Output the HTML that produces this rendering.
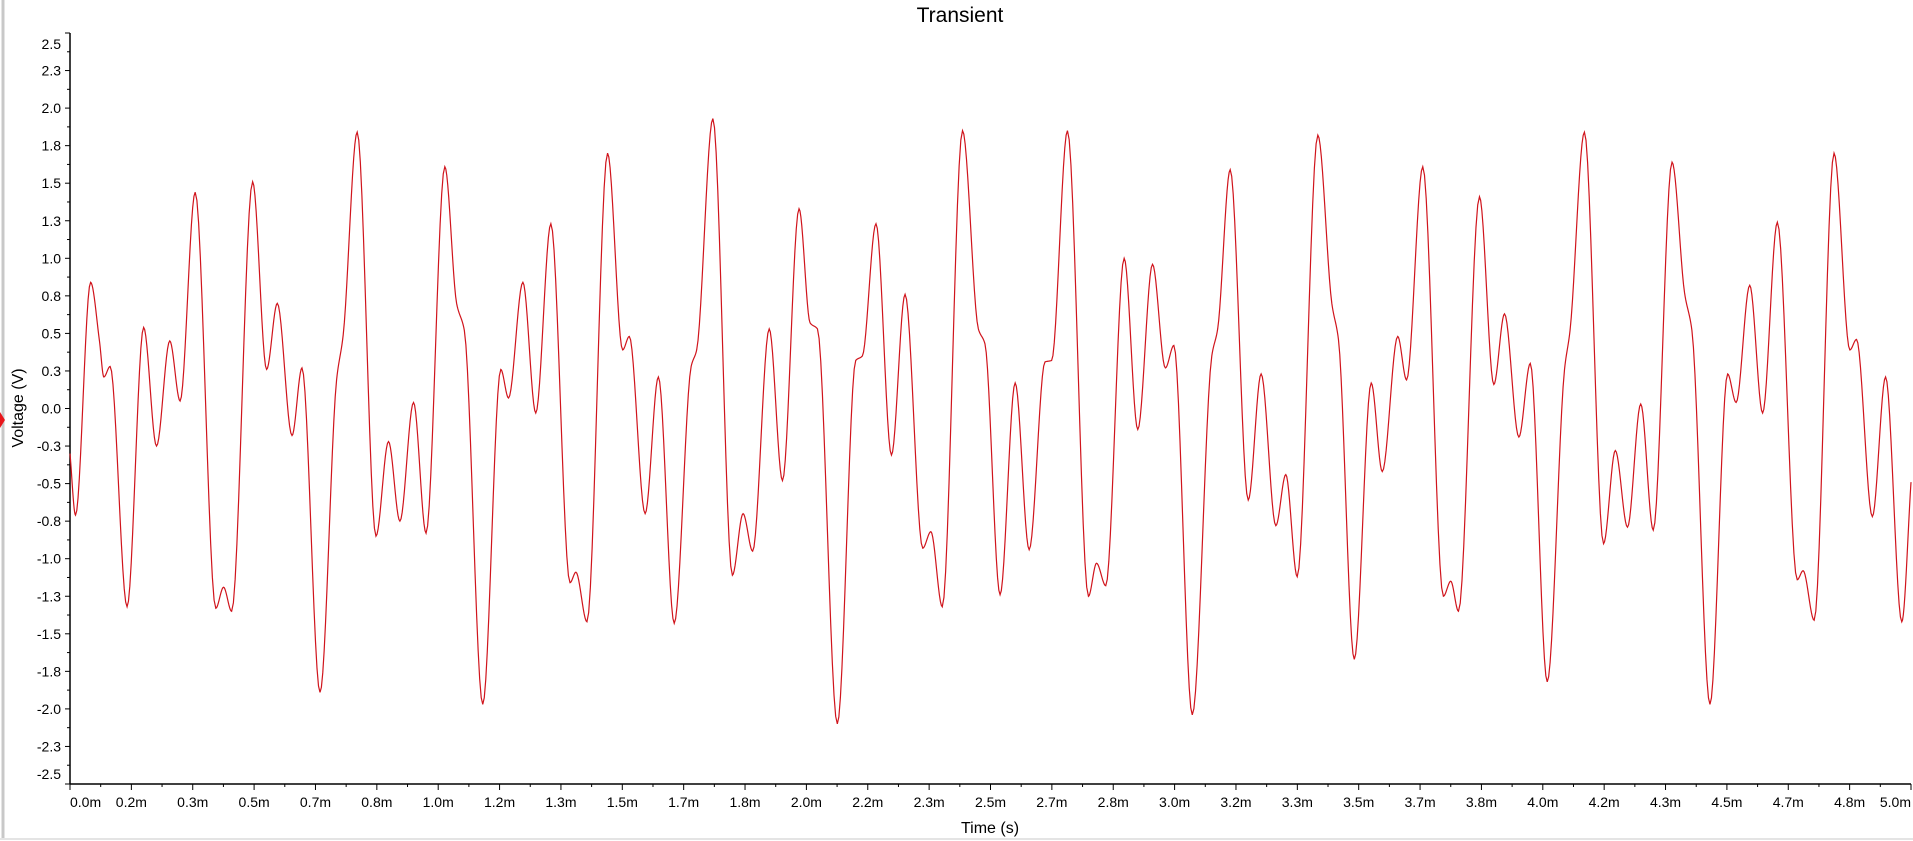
<!DOCTYPE html>
<html><head><meta charset="utf-8"><style>
html,body{margin:0;padding:0;background:#fff;}
svg{display:block;font-family:"Liberation Sans",Arial,sans-serif;}
</style></head><body>
<svg id="chart" width="1913" height="841" viewBox="0 0 1913 841" xmlns="http://www.w3.org/2000/svg">
<rect x="0" y="0" width="1913" height="841" fill="#fff"/>
<line x1="3" y1="0" x2="3" y2="838" stroke="#c8c8c8" stroke-width="3"/>
<line x1="0" y1="839" x2="1913" y2="839" stroke="#e4e4e4" stroke-width="2"/>
<polygon points="0,412 5,420 0,428" fill="#e8161b"/>
<text x="960" y="22" font-size="21" text-anchor="middle" fill="#000">Transient</text>
<text x="990" y="833" font-size="16" text-anchor="middle" fill="#000">Time (s)</text>
<text x="0" y="0" font-size="16" text-anchor="middle" fill="#000" transform="translate(23,408) rotate(-90)">Voltage (V)</text>
<g id="axes"></g>
<path id="trace" fill="none" stroke="#d0141c" stroke-width="1.2"/>
</svg>
<script>
const timeMs = [0,0.015,0.056,0.08,0.092,0.109,0.155,0.200,0.235,0.271,0.299,0.340,0.396,0.417,0.439,0.496,0.534,0.563,0.603,0.630,0.679,0.724,0.742,0.780,0.831,0.865,0.896,0.933,0.967,1.018,1.050,1.071,1.121,1.170,1.191,1.230,
1.265,1.306,1.358,1.374,1.404,1.460,1.501,1.519,1.562,1.598,1.641,1.687,1.702,1.746,1.799,1.828,1.854,1.899,1.935,1.980,2.010,2.030,2.084,2.134,2.152,2.189,2.231,2.268,2.316,2.338,2.369,2.424,2.467,
2.485,2.526,2.567,2.605,2.648,2.666,2.709,2.766,2.788,2.813,2.863,2.900,2.940,2.975,2.998,3.048,3.101,3.117,3.151,3.200,3.235,3.275,3.302,3.333,3.389,3.427,3.445,3.488,3.534,3.564,3.606,3.630,3.674,3.730,3.750,
3.771,3.828,3.867,3.896,3.935,3.966,4.012,4.059,4.074,4.113,4.165,4.197,4.230,4.266,4.300,4.351,4.385,4.405,4.454,4.502,4.525,4.562,4.597,4.637,4.691,4.707,4.737,4.791,4.834,4.852,4.895,4.931,4.975,5.000];
const voltage = [-0.3,-0.71,0.84,0.45,0.21,0.28,-1.32,0.54,-0.25,0.45,0.05,1.44,-1.33,-1.19,-1.35,1.51,0.26,0.70,-0.18,0.27,-1.89,0.19,0.49,1.84,-0.85,-0.22,-0.75,0.04,-0.83,1.61,0.70,0.52,-1.97,0.26,0.07,0.84,
-0.03,1.23,-1.16,-1.09,-1.42,1.70,0.39,0.48,-0.70,0.21,-1.43,0.28,0.39,1.93,-1.11,-0.70,-0.95,0.53,-0.48,1.33,0.57,0.53,-2.10,0.32,0.35,1.23,-0.31,0.76,-0.93,-0.82,-1.32,1.85,0.53,
0.43,-1.24,0.17,-0.94,0.31,0.32,1.85,-1.25,-1.03,-1.18,1.00,-0.14,0.96,0.27,0.42,-2.04,0.35,0.53,1.59,-0.61,0.23,-0.78,-0.44,-1.12,1.82,0.70,0.46,-1.67,0.17,-0.42,0.48,0.19,1.61,-1.25,-1.15,
-1.35,1.41,0.16,0.63,-0.19,0.30,-1.82,0.26,0.52,1.84,-0.90,-0.28,-0.79,0.03,-0.81,1.64,0.77,0.52,-1.97,0.23,0.04,0.82,-0.03,1.24,-1.14,-1.08,-1.41,1.70,0.39,0.46,-0.72,0.21,-1.42,-0.49];
const yTickValues = [2.5,2.25,2.0,1.75,1.5,1.25,1.0,0.75,0.5,0.25,0,-0.25,-0.5,-0.75,-1.0,-1.25,-1.5,-1.75,-2.0,-2.25,-2.5];
const xTickCount = 30;

const L=70,R=1911,T=33,B=784;
const X0=0,X1=5,Y0=-2.5,Y1=2.5;
const xs=t=>L+(t-X0)/(X1-X0)*(R-L);
const ys=v=>B-(v-Y0)/(Y1-Y0)*(B-T);
const NS="http://www.w3.org/2000/svg";
const axes=document.getElementById('axes');
function mk(tag,attrs){const e=document.createElementNS(NS,tag);for(const k in attrs)e.setAttribute(k,attrs[k]);return e;}

let ax=mk('line',{x1:L,y1:T,x2:L,y2:B,stroke:'#000','stroke-width':1.5});


axes.appendChild(ax);
let bx=mk('line',{x1:L,y1:B,x2:R,y2:B,stroke:'#000','stroke-width':1.5});


axes.appendChild(bx);

function fmtY(v){
  const s=Math.sign(v), a=Math.round(Math.abs(v)*10+1e-9)/10;
  const r=(s<0&&a>0?'-':'')+a.toFixed(1);
  return r;
}

yTickValues.forEach((v,i)=>{
  const y=ys(v);
  const tk=mk('line',{x1:L-5,y1:y,x2:L,y2:y,stroke:'#000','stroke-width':1});
  
  
  axes.appendChild(tk);
  if(i<yTickValues.length-1){
    const ym=ys(v-0.125);
    const mt=mk('line',{x1:L-3,y1:ym,x2:L,y2:ym,stroke:'#000','stroke-width':1});
    
    
    axes.appendChild(mt);
  }
  let ly=y+5;
  if(i===0) ly=y+16;
  if(i===yTickValues.length-1) ly=y-5;
  const lab=mk('text',{x:L-9,y:ly,'font-size':14,'text-anchor':'end',fill:'#000'});
  lab.textContent=fmtY(v);
  
  
  axes.appendChild(lab);
});

for(let i=0;i<=xTickCount;i++){
  const t=X0+(X1-X0)*i/xTickCount;
  const x=xs(t);
  const tk=mk('line',{x1:x,y1:B,x2:x,y2:B+6,stroke:'#000','stroke-width':1});
  
  
  axes.appendChild(tk);
  if(i<xTickCount){
    const xm=xs(t+(X1-X0)/xTickCount/2);
    const mt=mk('line',{x1:xm,y1:B,x2:xm,y2:B+3,stroke:'#000','stroke-width':1});
    
    
    axes.appendChild(mt);
  }
  let anchor='middle';
  if(i===0) anchor='start';
  if(i===xTickCount) anchor='end';
  const lab=mk('text',{x:x,y:807,'font-size':14,'text-anchor':anchor,fill:'#000'});
  lab.textContent=t.toFixed(1)+'m';
  
  
  axes.appendChild(lab);
}

// monotone cubic interpolation
const n=timeMs.length, d=[], m=new Array(n).fill(0);
for(let i=0;i<n-1;i++) d.push((voltage[i+1]-voltage[i])/(timeMs[i+1]-timeMs[i]));
m[0]=d[0]; m[n-1]=d[n-2];
for(let i=1;i<n-1;i++){
  if(d[i-1]*d[i]<=0) m[i]=0;
  else {const h0=timeMs[i]-timeMs[i-1],h1=timeMs[i+1]-timeMs[i];
    const w1=2*h1+h0,w2=h1+2*h0; m[i]=(w1+w2)/(w1/d[i-1]+w2/d[i]);}
}
let p='';
for(let i=0;i<n-1;i++){
  const h=timeMs[i+1]-timeMs[i], steps=12;
  for(let s=(i===0?0:1);s<=steps;s++){
    const u=s/steps,u2=u*u,u3=u2*u;
    const v=(2*u3-3*u2+1)*voltage[i]+(u3-2*u2+u)*h*m[i]+(-2*u3+3*u2)*voltage[i+1]+(u3-u2)*h*m[i+1];
    const t=timeMs[i]+u*h;
    p+=(p?'L':'M')+xs(t).toFixed(2)+','+ys(v).toFixed(2);
  }
}
document.getElementById('trace').setAttribute('d',p);
</script>
</body></html>
